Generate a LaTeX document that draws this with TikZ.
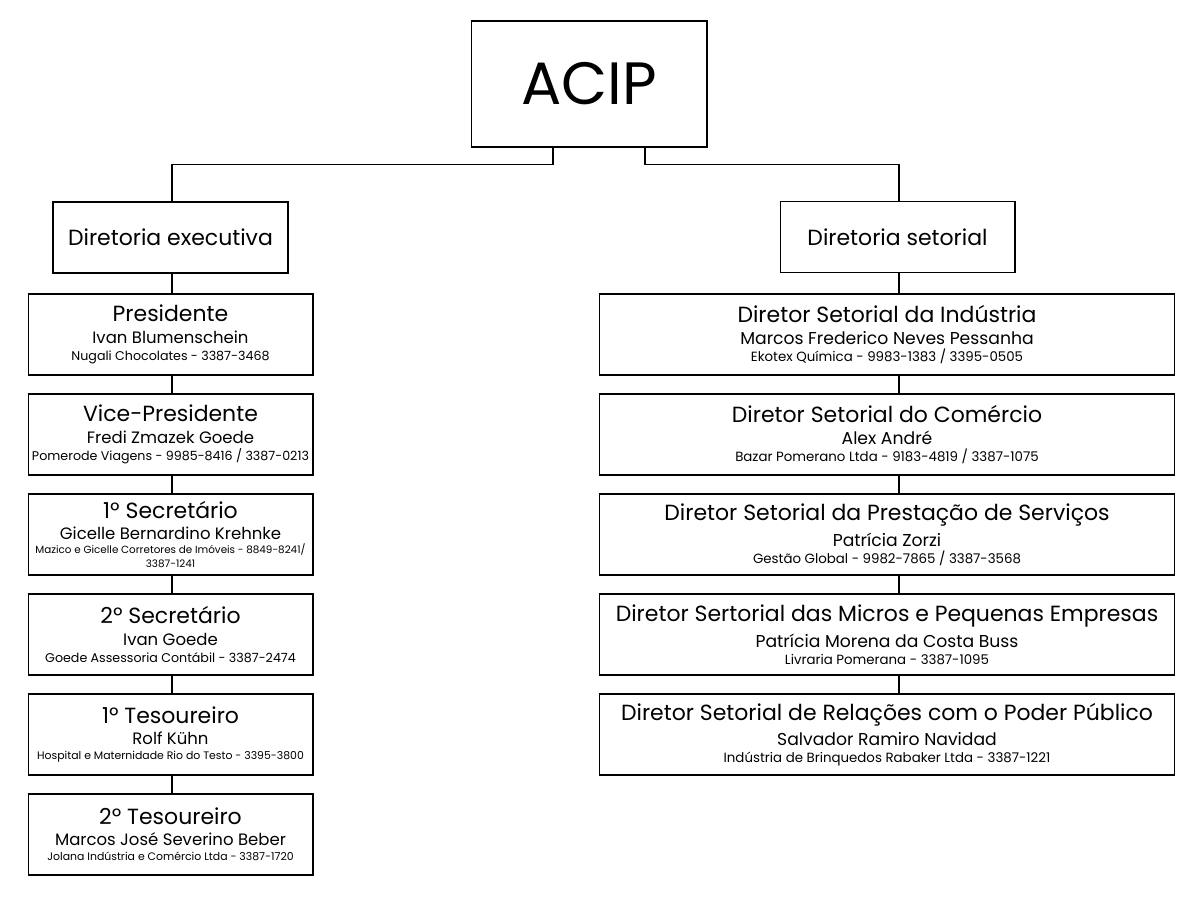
\documentclass[tikz,border=0pt]{standalone}
\usepackage{fontspec}
\setmainfont{Poppins}
\usepackage{tikz}
\usetikzlibrary{positioning, calc}
\definecolor{linha}{HTML}{000000}
\newcommand{\cargofont}{\fontsize{12.5}{15}\selectfont}
\newcommand{\nomefont}{\fontsize{9.4}{12}\selectfont}
\newcommand{\empresafont}{\fontsize{7.2}{10}\selectfont}
\newcommand{\miudafont}{\fontsize{6.2}{8}\selectfont}
\newcommand{\nomesetorfont}{\fontsize{9.8}{12}\selectfont}
\newcommand{\empresasetorfont}{\fontsize{7.6}{10}\selectfont}

\begin{document}
\begin{tikzpicture}[x=0.02cm, y=-0.02cm, line width=0.6pt,
    raiz/.style={draw=linha, minimum width=4.72cm, minimum height=2.52cm, inner sep=0pt, font=\fontsize{34}{36}\selectfont},
    diretoria/.style={draw=linha, minimum width=4.7cm, minimum height=1.42cm, inner sep=0pt, font=\cargofont},
    cargo/.style={draw=linha, minimum width=5.7cm, minimum height=1.62cm, inner sep=0pt, align=center, font=\fontsize{7}{9.7}\selectfont},
    setor/.style={cargo, minimum width=11.52cm}]
            \useasboundingbox (0,0) rectangle (1200,900);
            % topo
            \node[raiz] (acip) at (589,84) {ACIP};
            \node[diretoria] (dex) at (170.5,237.5) {Diretoria executiva};
            \node[diretoria] (dset) at (897.5,237) {Diretoria setorial};
            \draw ([xshift=-0.72cm]acip.south) -- ++(0,17) -| ([xshift=0.03cm]dex.north);
            \draw ([xshift=1.12cm]acip.south) -- ++(0,17) -| ([xshift=0.03cm]dset.north);
            % diretoria executiva
            \node[cargo] (pres) at (170.5,334.5) {{\cargofont Presidente}\\[2.8pt]{\nomefont Ivan Blumenschein}\\{\empresafont Nugali Chocolates - 3387-3468}};
            \node[cargo] (vice) at (170.5,434.5) {{\cargofont Vice-Presidente}\\[2.8pt]{\nomefont Fredi Zmazek Goede}\\{\empresafont Pomerode Viagens - 9985-8416 / 3387-0213}};
            \node[cargo] (sec1) at (170.5,534.5) {{\cargofont 1º Secretário}\\[2.3pt]{\nomefont Gicelle Bernardino Krehnke}\\[-1.7pt]{\miudafont\fontsize{5.9}{8}\selectfont Mazico e Gicelle Corretores de Imóveis - 8849-8241/}\\[-1.7pt]{\miudafont\fontsize{5.9}{8}\selectfont 3387-1241}};
            \node[cargo] (sec2) at (170.5,634.5) {{\cargofont 2º Secretário}\\[2.8pt]{\nomefont Ivan Goede}\\{\empresafont Goede Assessoria Contábil - 3387-2474}};
            \node[cargo] (tes1) at (170.5,734.5) {{\cargofont 1º Tesoureiro}\\[2.3pt]{\nomefont Rolf Kühn}\\[-1.5pt]{\miudafont Hospital e Maternidade Rio do Testo - 3395-3800}};
            \node[cargo] (tes2) at (170.5,834.5) {{\cargofont 2º Tesoureiro}\\[2.3pt]{\nomefont Marcos José Severino Beber}\\[-1.2pt]{\miudafont Jolana Indústria e Comércio Ltda - 3387-1720}};
            \draw ([xshift=0.03cm]dex.south) -- ([xshift=0.03cm]dex.south |- pres.north);
            \foreach \a/\b in {pres/vice, vice/sec1, sec1/sec2, sec2/tes1, tes1/tes2}
                \draw ([xshift=0.03cm]\a.south) -- ([xshift=0.03cm]\b.north);
            % diretoria setorial
            \node[setor] (ind) at (887,334.5) {{\cargofont Diretor Setorial da Indústria}\\[2.8pt]{\nomesetorfont Marcos Frederico Neves Pessanha}\\{\empresasetorfont Ekotex Química - 9983-1383 / 3395-0505}};
            \node[setor] (com) at (887,434.5) {{\cargofont Diretor Setorial do Comércio}\\[2.8pt]{\nomesetorfont Alex André}\\{\empresasetorfont Bazar Pomerano Ltda - 9183-4819 / 3387-1075}};
            \node[setor] (serv) at (887,534.5) {{\cargofont Diretor Setorial da Prestação de Serviços}\\[2.8pt]{\nomesetorfont Patrícia Zorzi}\\{\empresasetorfont Gestão Global - 9982-7865 / 3387-3568}};
            \node[setor] (mpe) at (887,634.5) {{\cargofont Diretor Sertorial das Micros e Pequenas Empresas}\\[2.8pt]{\nomesetorfont Patrícia Morena da Costa Buss}\\{\empresasetorfont Livraria Pomerana - 3387-1095}};
            \node[setor] (pub) at (887,734.5) {{\cargofont Diretor Setorial de Relações com o Poder Público}\\[2.8pt]{\nomesetorfont Salvador Ramiro Navidad}\\{\empresasetorfont Indústria de Brinquedos Rabaker Ltda - 3387-1221}};
            \draw ([xshift=0.03cm]dset.south) -- ([xshift=0.03cm]dset.south |- ind.north);
            \foreach \a/\b in {ind/com, com/serv, serv/mpe, mpe/pub}
                \draw ([xshift=0.03cm]\a.south -| dset.south) -- ([xshift=0.03cm]\b.north -| dset.south);
        \end{tikzpicture}
\end{document}
